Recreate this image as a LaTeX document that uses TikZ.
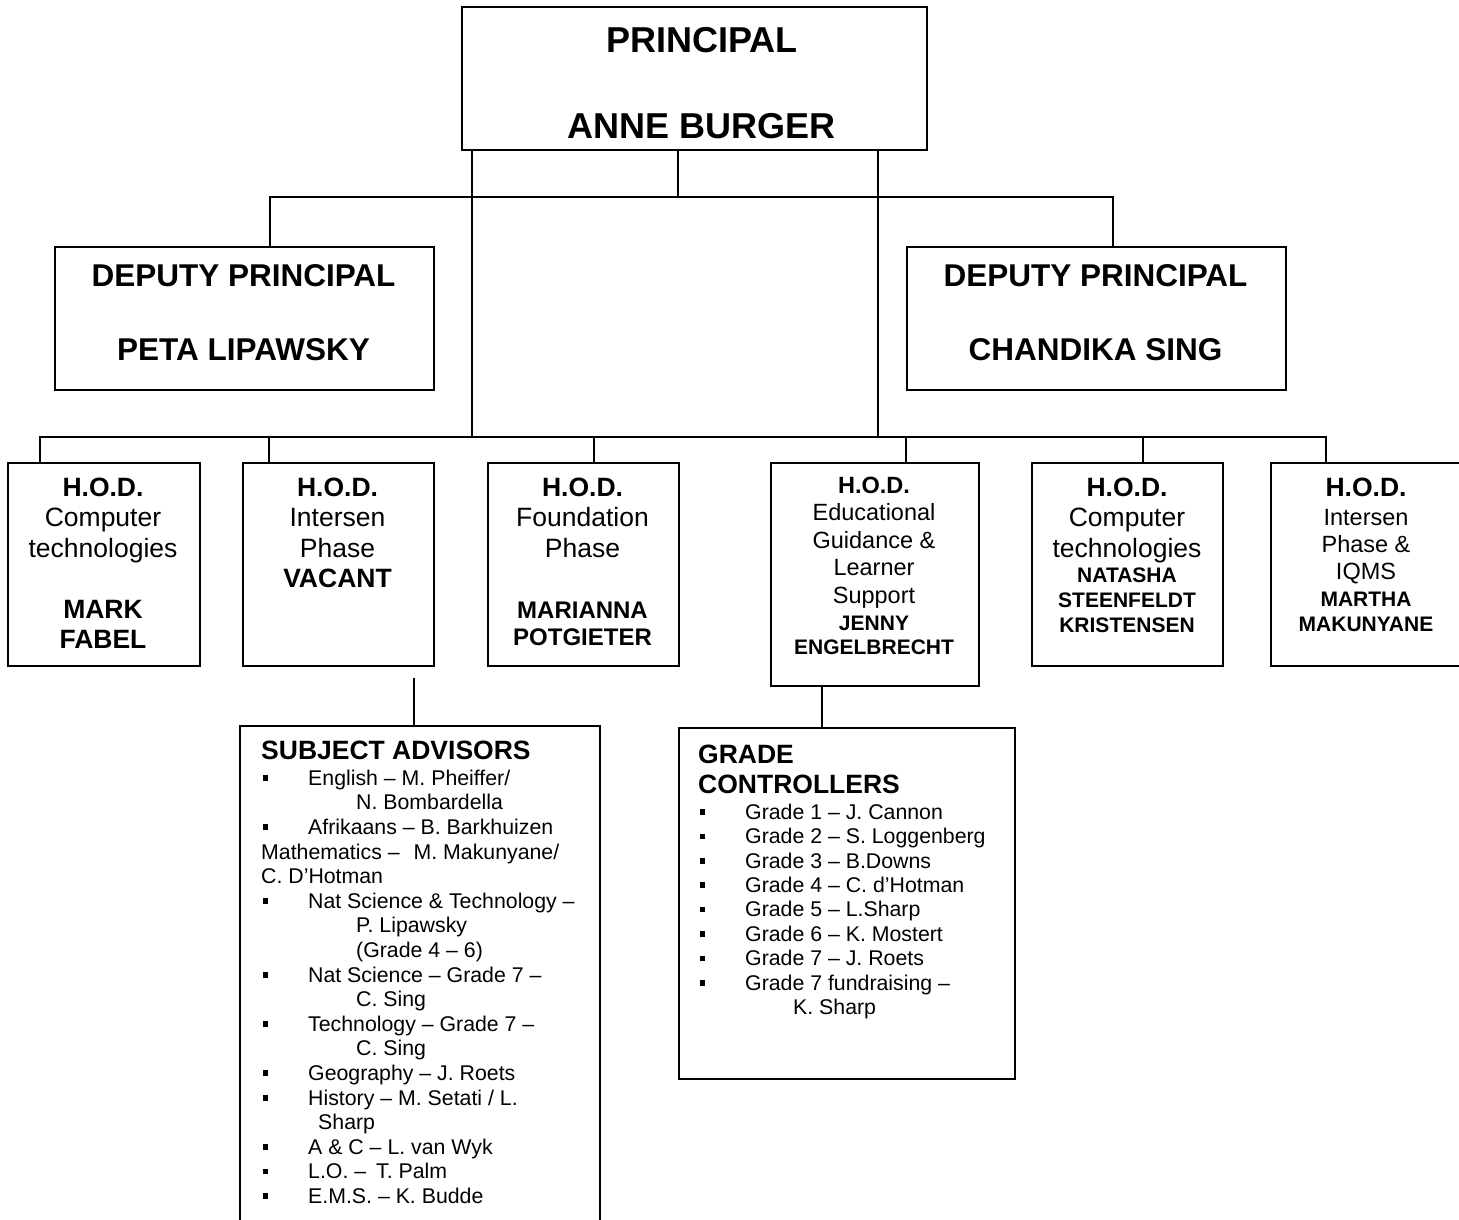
\documentclass[tikz,border=0pt]{standalone}
\usepackage{fontspec}
\setmainfont{Liberation Sans}
\newcommand{\fsz}[2]{\fontsize{#1}{#2}\selectfont}
\newcommand{\tp}{\rule{0pt}{30pt}}
\newcommand{\blt}{\makebox[47pt][l]{\hspace*{1.5pt}\rule[4.5pt]{5.5pt}{5.5pt}}}
\newcommand{\lvl}{\hspace*{95pt}}
\begin{document}
\begin{tikzpicture}[x=1pt,y=-1pt,
	box/.style={draw,line width=1.8pt,inner sep=0pt,anchor=north west},
	link/.style={line width=1.4pt},
	txt/.style={anchor=north,inner sep=0pt,align=center}]
	\useasboundingbox (0,0) rectangle (1459,1219);
	\clip (0,0) rectangle (1459,1219);
	% boxes
	\node[box,minimum width=465pt,minimum height=143pt] (prin) at (461,6) {};
	\foreach \n/\x in {dep1/54,dep2/906}
		\node[box,minimum width=379pt,minimum height=143pt] (\n) at (\x,246) {};
	\foreach \n/\x/\w/\h in {hod1/7/192/203,hod2/242/191/203,hod3/487/191/203,hod4/770/208/223,hod5/1031/191/203,hod6/1270/192/203}
		\node[box,minimum width=\w pt,minimum height=\h pt] (\n) at (\x,462) {};
	\node[box,minimum width=360pt,minimum height=530pt] (sa) at (239,725) {};
	\node[box,minimum width=336pt,minimum height=351pt] (gc) at (678,727) {};
	% connectors
	\path
	(678,197) coordinate (dm)
	(270,197) coordinate (dl)
	(1113,197) coordinate (dr)
	(472,437) coordinate (pl)
	(878,437) coordinate (pr)
	(414,678) coordinate (sc)
	(822,700) coordinate (gx);
	\draw[link] (dm |- prin.south) -- (dm);
	\draw[link] (dl |- dep1.north) -- (dl) -- (dr) -- (dr |- dep2.north);
	\draw[link] (pl |- prin.south) -- (pl);
	\draw[link] (pr |- prin.south) -- (pr);
	\foreach \n/\x in {hod1/40,hod2/269,hod3/594,hod4/906,hod5/1143,hod6/1326}
		{\path (\x,437) coordinate (t\n); \draw[link] (t\n) -- (t\n |- \n.north);}
	\draw[link] (thod1 |- hod1.north) -- (thod1) -- (thod6) -- (thod6 |- hod6.north);
	\draw[link] (sc) -- (sc |- sa.north);
	\draw[link] (gx |- hod4.south) -- (gx |- gc.north);
	% texts
	\node[txt,font=\bfseries\fsz{36}{41.4}] (print) at (702,22) {\tp PRINCIPAL\\[44.6pt]ANNE BURGER};
	\node[txt,font=\bfseries\fsz{31.5}{36.2}] (dep1t) at (243.5,256) {\tp DEPUTY PRINCIPAL\\[37.8pt]PETA LIPAWSKY};
	\node[txt,font=\bfseries\fsz{31.5}{36.2}] (dep2t) at (1095.5,256) {\tp DEPUTY PRINCIPAL\\[37.8pt]CHANDIKA SING};
	\node[txt,font=\fsz{26.5}{30.5}] (hod1t) at (103,466) {\tp\textbf{H.O.D.}\\Computer\\technologies\\[30.5pt]\textbf{MARK}\\\textbf{FABEL}};
	\node[txt,font=\fsz{26.5}{30.5}] (hod2t) at (337.5,466) {\tp\textbf{H.O.D.}\\Intersen\\Phase\\\textbf{VACANT}};
	\node[txt,font=\fsz{26.5}{30.5}] (hod3t) at (582.5,466) {\tp\textbf{H.O.D.}\\Foundation\\Phase\\[30.5pt]{\bfseries\fsz{24}{30.5}MARIANNA}\\[-3pt]{\bfseries\fsz{24}{30.5}POTGIETER}};
	\node[txt,font=\fsz{23.5}{27.5}] (hod4t) at (874,463) {\tp\textbf{H.O.D.}\\Educational\\Guidance \&\\Learner\\Support\\{\bfseries\fsz{21}{27.5}JENNY}\\[-3.5pt]{\bfseries\fsz{21}{27.5}ENGELBRECHT}};
	\node[txt,font=\fsz{26.5}{30.5}] (hod5t) at (1127,466) {\tp\textbf{H.O.D.}\\Computer\\technologies\\[-5.5pt]{\bfseries\fsz{21}{24}NATASHA}\\[-5.5pt]{\bfseries\fsz{21}{24}STEENFELDT}\\[-5.5pt]{\bfseries\fsz{21}{24}KRISTENSEN}};
	\node[txt,font=\fsz{23.5}{27}] (hod6t) at (1366,466) {\tp{\bfseries\fsz{26.5}{27}H.O.D.}\\[2pt]Intersen\\Phase \&\\IQMS\\{\bfseries\fsz{21}{27}MARTHA}\\[-2pt]{\bfseries\fsz{21}{27}MAKUNYANE}};
	\node[txt,anchor=north west,align=left,font=\fsz{21.3}{24.6}] (sat) at (261,729) {\tp{\bfseries\fsz{26.5}{30}SUBJECT ADVISORS}\\[1.4pt]
		\blt English – M. Pheiffer/\\
		\lvl N. Bombardella\\
		\blt Afrikaans – B. Barkhuizen\\
		Mathematics – \hspace{8pt}M. Makunyane/\\
		C. D’Hotman\\
		\blt Nat Science \& Technology –\\
		\lvl P. Lipawsky\\
		\lvl (Grade 4 – 6)\\
		\blt Nat Science – Grade 7 –\\
		\lvl C. Sing\\
		\blt Technology – Grade 7 –\\
		\lvl C. Sing\\
		\blt Geography – J. Roets\\
		\blt History – M. Setati / L.\\
		\hspace*{57pt}Sharp\\
		\blt A \& C – L. van Wyk\\
		\blt L.O. – \hspace{4pt}T. Palm\\
		\blt E.M.S. – K. Budde};
	\node[txt,anchor=north west,align=left,font=\fsz{21.3}{24.4}] (gct) at (698,733) {\tp{\bfseries\fsz{26.5}{30}GRADE}\\[5.6pt]
		{\bfseries\fsz{26.5}{30}CONTROLLERS}\\[1.6pt]
		\blt Grade 1 – J. Cannon\\
		\blt Grade 2 – S. Loggenberg\\
		\blt Grade 3 – B.Downs\\
		\blt Grade 4 – C. d’Hotman\\
		\blt Grade 5 – L.Sharp\\
		\blt Grade 6 – K. Mostert\\
		\blt Grade 7 – J. Roets\\
		\blt Grade 7 fundraising –\\
		\lvl K. Sharp};
\end{tikzpicture}
\end{document}
